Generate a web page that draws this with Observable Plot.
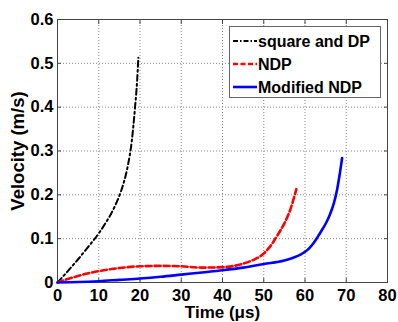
<!DOCTYPE html>
<html>
<head>
<meta charset="utf-8">
<script src="https://cdn.jsdelivr.net/npm/d3@7"></script>
<script src="https://cdn.jsdelivr.net/npm/@observablehq/plot@0.6"></script>
<style>
  html, body { margin: 0; padding: 0; background: #fff; }
  svg { display: block; }
</style>
</head>
<body>
<div id="chart"></div>
<script>
// Series: square and DP
const sqTime = [0, 2.5, 5, 7.5, 10, 11, 12, 13, 14, 15, 16, 17, 18, 18.8, 19.3, 19.6];
const sqVel  = [0, 0.026, 0.053, 0.082, 0.112, 0.126, 0.141, 0.157, 0.176, 0.198, 0.226, 0.264, 0.322, 0.4, 0.46, 0.513];
// Series: NDP
const ndpTime = [0, 2.5, 5, 7.5, 10, 15, 20, 25, 30, 35, 40, 45, 48, 50, 51, 52, 52.8, 54, 55, 56.6, 57.9];
const ndpVel  = [0, 0.008, 0.015, 0.021, 0.026, 0.033, 0.037, 0.038, 0.037, 0.034, 0.035, 0.043, 0.054, 0.066, 0.076, 0.088, 0.1, 0.118, 0.135, 0.171, 0.213];
// Series: Modified NDP
const modTime = [0, 5, 10, 15, 20, 25, 30, 35, 40, 45, 50, 55, 57, 59, 60, 61, 62, 63, 64, 65, 66, 67, 67.8, 68.5, 69];
const modVel  = [0, 0.001, 0.003, 0.006, 0.009, 0.013, 0.018, 0.023, 0.028, 0.034, 0.042, 0.05, 0.056, 0.064, 0.07, 0.078, 0.089, 0.103, 0.118, 0.134, 0.154, 0.181, 0.213, 0.252, 0.284];

const seriesNames = ["square and DP", "NDP", "Modified NDP"];
const seriesColors = ["#000000", "#ff0000", "#0000ff"];
const seriesDash = ["6,3,2,3", "6,3", null];

const xTicks = [0, 10, 20, 30, 40, 50, 60, 70, 80];
const yTicks = [0, 0.1, 0.2, 0.3, 0.4, 0.5, 0.6];
const yTickLabels = ["0", "0.1", "0.2", "0.3", "0.4", "0.5", "0.6"];

const toRows = (t, v) => t.map((d, i) => ({t: d, v: v[i]}));
const rows = [toRows(sqTime, sqVel), toRows(ndpTime, ndpVel), toRows(modTime, modVel)];

const FONT = "'Liberation Sans', Arial, Helvetica, sans-serif";
const frameColor = "#444";

const chart = Plot.plot({
  width: 398,
  height: 322,
  marginLeft: 57,
  marginRight: 11,
  marginTop: 19,
  marginBottom: 40,
  style: {fontFamily: FONT, fontWeight: "bold", fontSize: "16px", color: "#000", background: "#fff"},
  x: {domain: [0, 80]},
  y: {domain: [0, 0.6]},
  marks: [
    Plot.gridX(xTicks, {stroke: "#888", strokeOpacity: 1, strokeDasharray: "1,2"}),
    Plot.gridY(yTicks, {stroke: "#888", strokeOpacity: 1, strokeDasharray: "1,2"}),
    Plot.frame({stroke: frameColor, strokeWidth: 1}),
    // inward ticks on all four sides
    Plot.axisX(xTicks, {anchor: "bottom", tickSize: -4, text: null, label: null, stroke: frameColor}),
    Plot.axisX(xTicks, {anchor: "top", tickSize: -4, text: null, label: null, stroke: frameColor}),
    Plot.axisY(yTicks, {anchor: "left", tickSize: -4, text: null, label: null, stroke: frameColor}),
    Plot.axisY(yTicks, {anchor: "right", tickSize: -4, text: null, label: null, stroke: frameColor}),
    // tick labels
    Plot.axisX(xTicks, {anchor: "bottom", tickSize: 0, tickPadding: 7, fill: "#000",
      label: "Time (μs)", labelAnchor: "center", labelArrow: "none", labelOffset: 35}),
    Plot.axisY(yTicks, {anchor: "left", tickSize: 0, tickPadding: 4, fill: "#000",
      tickFormat: (d, i) => yTickLabels[i],
      label: "Velocity (m/s)", labelAnchor: "center", labelArrow: "none", labelOffset: 47}),
    ...rows.map((r, i) => Plot.line(r, {
      x: "t", y: "v", stroke: seriesColors[i], strokeWidth: i === 0 ? 2 : 2.6,
      strokeDasharray: seriesDash[i], curve: "monotone-x"
    }))
  ]
});

const svg = d3.select(chart);
svg.selectAll("g[aria-label='x-axis tick label'] text, g[aria-label='y-axis tick label'] text")
  .attr("font-size", 16.5).attr("font-weight", "bold");
svg.selectAll("g[aria-label='x-axis label'] text").attr("font-size", 17).attr("font-weight", "bold");
svg.selectAll("g[aria-label='y-axis label'] text").attr("font-size", 18.5).attr("font-weight", "bold");

// Legend box (MATLAB-style, inside the plot)
const lg = svg.append("g").attr("font-family", FONT).attr("font-weight", "bold")
  .attr("font-size", 16).attr("text-anchor", "start");
lg.append("rect").attr("x", 229.5).attr("y", 26.5).attr("width", 151).attr("height", 71)
  .attr("fill", "#fff").attr("stroke", "#666").attr("stroke-width", 1);
seriesNames.forEach((name, i) => {
  const cy = 41 + i * 23;
  lg.append("line").attr("x1", 233).attr("x2", 257).attr("y1", cy).attr("y2", cy)
    .attr("stroke", seriesColors[i]).attr("stroke-width", i === 0 ? 2 : 2.6)
    .attr("stroke-dasharray", seriesDash[i] ? (i === 0 ? "5,2,1.5,2" : "5,2.5") : null);
  lg.append("text").attr("x", 258).attr("y", cy).attr("dy", "0.35em")
    .attr("text-anchor", "start").attr("fill", "#000").text(name);
});

document.getElementById("chart").appendChild(chart);
</script>
</body>
</html>
